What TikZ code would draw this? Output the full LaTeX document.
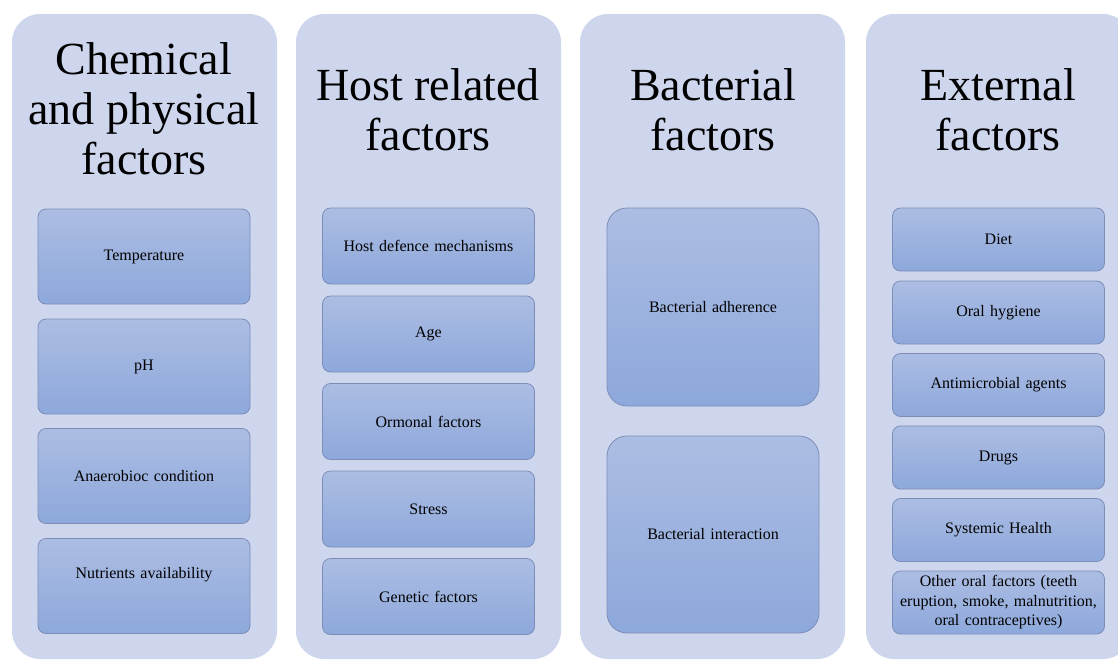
\documentclass[tikz,border=0pt]{standalone}
\usepackage{fontspec}
\setmainfont{Liberation Serif}
\usetikzlibrary{positioning}
\definecolor{panelfill}{RGB}{206,214,237}
\definecolor{boxtop}{RGB}{172,189,227}
\definecolor{boxbottom}{RGB}{141,168,219}
\definecolor{boxline}{RGB}{125,141,184}
\tikzset{
x=1pt, y=-1pt,
panel/.style={fill=panelfill, rounded corners=28pt, minimum width=265pt,
  minimum height=645pt, inner sep=0pt},
paneltitle/.style={align=center, font=\fontsize{46}{50}\selectfont, inner sep=0pt},
factor/.style={draw=boxline, line width=0.8pt, top color=boxtop, bottom color=boxbottom,
  rounded corners=8pt, minimum width=212pt, inner sep=2pt, align=center,
  font=\fontsize{16}{19.5}\selectfont, text width=205pt},
bigfactor/.style={factor, rounded corners=20pt},
}

\begin{document}
\begin{tikzpicture}

    \useasboundingbox (0,0) rectangle (1118,659);
    \begin{scope}
    \clip (0,0) rectangle (1118,659);

    % panels
    \node[panel] (chempanel) at (144.5,336.5) {};
    \node[panel] (hostpanel) at (428.5,336.5) {};
    \node[panel] (bactpanel) at (712.5,336.5) {};
    \node[panel] (extpanel) at (998.5,336.5) {};

    \node[paneltitle] (chemtitle) at (144,109) {Chemical\\and physical\\factors};
    \node[paneltitle] (hosttitle) at (428,110) {Host related\\factors};
    \node[paneltitle] (bacttitle) at (713,110) {Bacterial\\factors};
    \node[paneltitle] (exttitle) at (998,110) {External\\factors};

    % chemical and physical
    \node[factor, minimum height=95pt] (temp) at (144,256.5) {Temperature};
    \node[factor, minimum height=95pt] (ph) at (144,366.5) {pH};
    \node[factor, minimum height=95pt] (anaer) at (144,476) {Anaerobioc condition};
    \node[factor, minimum height=95pt] (nutr) at (144,586) {\raisebox{26pt}{Nutrients availability}};

    % host related
    \node[factor, minimum height=76pt] (defence) at (428.5,246) {Host defence mechanisms};
    \node[factor, minimum height=76pt] (age) at (428.5,334) {Age};
    \node[factor, minimum height=76pt] (ormonal) at (428.5,421.5) {Ormonal factors};
    \node[factor, minimum height=76pt] (stress) at (428.5,509) {Stress};
    \node[factor, minimum height=76pt] (genetic) at (428.5,596.5) {Genetic factors};

    % bacterial
    \node[bigfactor, minimum height=198pt] (adher) at (713,307) {Bacterial adherence};
    \node[bigfactor, minimum height=197pt] (interact) at (713,534.5) {Bacterial interaction};

    % external
    \node[factor, minimum height=63pt] (diet) at (998.5,239.5) {Diet};
    \node[factor, minimum height=63pt] (hygiene) at (998.5,312.5) {Oral hygiene};
    \node[factor, minimum height=63pt] (antimicro) at (998.5,385) {Antimicrobial agents};
    \node[factor, minimum height=63pt] (drugs) at (998.5,457.5) {Drugs};
    \node[factor, minimum height=63pt] (systemic) at (998.5,530) {Systemic Health};
    \node[factor, minimum height=63pt] (otheroral) at (998.5,602.5)
      {Other oral factors (teeth\\eruption, smoke, malnutrition,\\oral contraceptives)};

    \end{scope}

\end{tikzpicture}
\end{document}
